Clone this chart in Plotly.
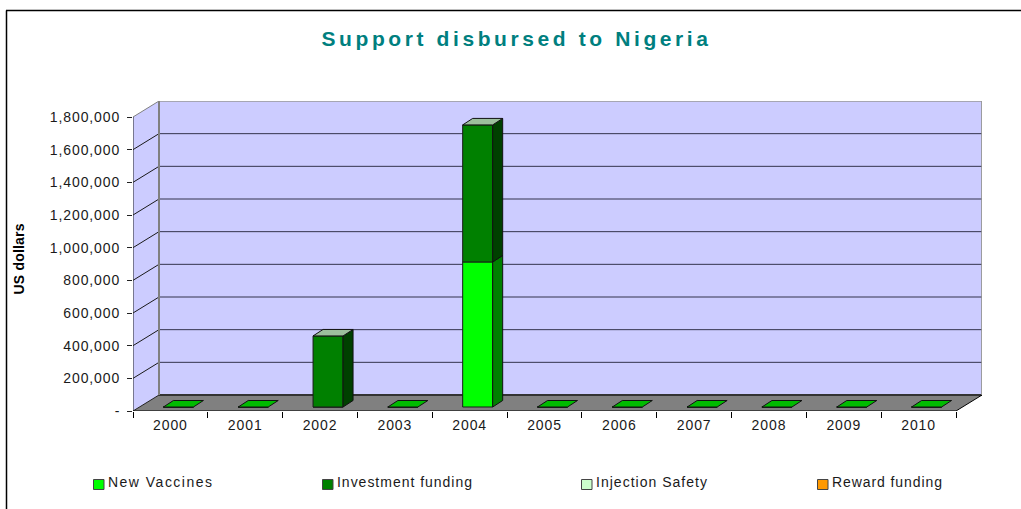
import plotly.graph_objects as go

years = ["2000","2001","2002","2003","2004","2005","2006","2007","2008","2009","2010"]
new_vaccines = [0,0,0,0,888000,0,0,0,0,0,0]
investment = [0,0,435000,0,839000,0,0,0,0,0,0]
injection_safety = [0]*11
reward_funding = [0]*11
y_ticks = [0,200000,400000,600000,800000,1000000,1200000,1400000,1600000,1800000]
y_labels = ["-","200,000","400,000","600,000","800,000","1,000,000","1,200,000","1,400,000","1,600,000","1,800,000"]
legend_names = ["New Vaccines","Investment funding","Injection Safety","Reward funding"]
legend_colors = ["#00FF00","#008000","#CCFFCC","#FF9900"]
legend_px = [93,322,581,817]

W,H = 1021,509
L,R,T,B = 133,982,101,411       # plot rectangle in px
cat_px = (956-133)/11
val_px = 294/1800000
px2x = lambda p: p/cat_px
px2y = lambda p: p/val_px
DX,DY = px2x(26),px2y(16)
x0,x1 = -0.5,10.5
ymax = 1800000
bw = px2x(30)
sx,sy = px2x(8),px2y(4)       # bar front offset into the floor
bx,by = px2x(10),px2y(6.5)    # bar depth

def poly(xs,ys,fill,line="#000000",lw=1,layer="below"):
    path="M"+" L".join(f"{a},{b}" for a,b in zip(xs,ys))+" Z"
    return dict(type="path",path=path,xref="x",yref="y",fillcolor=fill,line=dict(color=line,width=lw),layer=layer)
def seg(xa,ya,xb,yb,c,w=1):
    return dict(type="line",x0=xa,y0=ya,x1=xb,y1=yb,xref="x",yref="y",line=dict(color=c,width=w),layer="below")

shapes=[]
# back wall, left wall, floor
shapes.append(poly([x0+DX,x1+DX,x1+DX,x0+DX],[DY,DY,ymax+DY,ymax+DY],"#CCCCFF","#999999",1.5))
shapes.append(poly([x0,x0+DX,x0+DX,x0],[0,DY,ymax+DY,ymax],"#CCCCFF","rgba(0,0,0,0)",0))
shapes.append(poly([x0,x1,x1+DX,x0+DX],[0,0,DY,DY],"#808080","rgba(0,0,0,0)",0))
for v in y_ticks[1:-1]:
    shapes.append(seg(x0+DX,v+DY,x1+DX,v+DY,"#33334D"))
    shapes.append(seg(x0,v,x0+DX,v+DY,"#1A1A1A"))
shapes.append(seg(x0,ymax,x0+DX,ymax+DY,"#808080"))
shapes.append(seg(x0+DX,DY,x1+DX,DY,"#333333",2))
shapes.append(seg(x0,0,x0+DX,DY,"#222222"))
shapes.append(seg(x1,0,x1+DX,DY,"#000000"))
shapes.append(seg(x0+DX,DY,x0+DX,ymax+DY,"#808080",2))
shapes.append(seg(x1+DX,DY,x1+DX,ymax+DY,"#999999",1.5))

# frame
shapes.append(dict(type="line",x0=6.5/W,x1=6.5/W,y0=0,y1=1-10.5/H,xref="paper",yref="paper",line=dict(color="#000000",width=1.5)))
shapes.append(dict(type="line",x0=6/W,x1=1,y0=1-10.5/H,y1=1-10.5/H,xref="paper",yref="paper",line=dict(color="#000000",width=1.5)))

fig=go.Figure()
idx=list(range(len(years)))
centers=[i+sx for i in idx]
fig.add_bar(x=centers,y=new_vaccines,base=[sy]*11,width=bw,name=legend_names[0],marker=dict(color=legend_colors[0],line=dict(color="#1A1A1A",width=1)),showlegend=False,xaxis="x",yaxis="y")
fig.add_bar(x=centers,y=investment,base=[sy+v for v in new_vaccines],width=bw,name=legend_names[1],marker=dict(color=legend_colors[1],line=dict(color="#1A1A1A",width=1)),showlegend=False,xaxis="x",yaxis="y")

def face(xs,ys,fill):
    fig.add_scatter(x=xs+[xs[0]],y=ys+[ys[0]],mode="lines",fill="toself",fillcolor=fill,line=dict(color="#111111",width=1),showlegend=False,hoverinfo="skip",xaxis="x",yaxis="y")

for i,(a,b) in enumerate(zip(new_vaccines,investment)):
    xl=centers[i]-bw/2; xr=centers[i]+bw/2
    base=sy
    if a>0:
        face([xr,xr+bx,xr+bx,xr],[base,base+by,base+a+by,base+a],"#008000")
    if b>0:
        face([xr,xr+bx,xr+bx,xr],[base+a,base+a+by,base+a+b+by,base+a+b],"#004000")
    t=base+a+b
    face([xl,xr,xr+bx,xl+bx],[t,t,t+by,t+by],"#00BB00" if a+b==0 else "#9CBF9C")

# front axis line (ties the boundary-tick axis to the plot)
fig.add_scatter(x=[x0,x1],y=[0,0],mode="lines",line=dict(color="#000000",width=1),showlegend=False,hoverinfo="skip",xaxis="x2",yaxis="y")
fig.add_scatter(x=[x0,x0],y=[0,ymax],mode="lines",line=dict(color="#222222",width=1),showlegend=False,hoverinfo="skip",xaxis="x",yaxis="y")

font=dict(family="Liberation Sans, Arial, sans-serif",size=14,color="#1A1A1A")
rng=[x0,x1+DX]
annotations=[dict(text="<b>US dollars</b>",x=18.5/W,y=1-259/H,xref="paper",yref="paper",textangle=-90,showarrow=False,xanchor="center",yanchor="middle",font=dict(family="Liberation Sans, Arial, sans-serif",size=14,color="#000000"))]
for n,c,p in zip(legend_names,legend_colors,legend_px):
    shapes.append(dict(type="rect",x0=(p+0.5)/W,x1=(p+11)/W,y0=1-489.5/H,y1=1-479.5/H,xref="paper",yref="paper",fillcolor=c,line=dict(color="#444444",width=1)))
    annotations.append(dict(text=n,x=(p+13)/W,y=1-482/H,xref="paper",yref="paper",showarrow=False,xanchor="left",yanchor="middle",font=font))

fig.update_layout(
    width=W,height=H,margin=dict(l=0,r=0,t=0,b=0,autoexpand=False),
    paper_bgcolor="#FFFFFF",plot_bgcolor="rgba(0,0,0,0)",showlegend=False,barmode="overlay",
    title=dict(text="<b>Support disbursed to Nigeria</b>",x=516.5/W,xanchor="center",y=1-39/H,yanchor="middle",font=dict(family="Liberation Sans, Arial, sans-serif",size=21,color="#007F7F")),
    xaxis=dict(domain=[L/W,R/W],range=rng,tickmode="array",tickvals=idx,ticktext=years,ticks="",showgrid=False,zeroline=False,showline=False,tickfont=font,ticklabelstandoff=4,anchor="y"),
    xaxis2=dict(domain=[L/W,R/W],range=rng,overlaying="x",side="bottom",anchor="y",tickmode="array",tickvals=[i-0.5 for i in range(12)],ticktext=[""]*12,ticks="outside",ticklen=6,tickcolor="#000000",showgrid=False,zeroline=False,showline=False),
    yaxis=dict(domain=[1-B/H,1-T/H],range=[0,ymax+DY],tickmode="array",tickvals=y_ticks,ticktext=y_labels,ticks="outside",ticklen=5,tickcolor="#222222",showgrid=False,zeroline=False,showline=False,tickfont=font,ticklabelstandoff=4,anchor="x"),
    shapes=shapes,annotations=annotations,
)
js="""
document.body.style.margin='0';
document.querySelectorAll('.gtitle').forEach(t=>t.style.letterSpacing='3.6px');
document.querySelectorAll('.xtick text,.ytick text').forEach(t=>t.style.letterSpacing='0.9px');
const targets={'New Vaccines':104,'Investment funding':135,'Injection Safety':111,'Reward funding':110};
document.querySelectorAll('.annotation-text').forEach(t=>{
  const s=t.textContent;
  if(s.includes('US dollars')){t.style.letterSpacing='0.2px';return;}
  const r0=t.getBoundingClientRect();
  t.style.letterSpacing=((targets[s]-r0.width)/(s.length-1))+'px';
  const r1=t.getBoundingClientRect();
  t.setAttribute('transform','translate('+(r0.left-r1.left)+',0)');
});
"""
fig.write_html("out.html",post_script=js,config=dict(displayModeBar=False))
